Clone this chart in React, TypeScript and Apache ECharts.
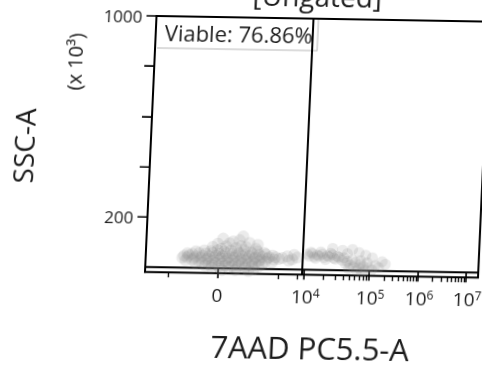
import React, { useEffect, useRef } from "react";
import * as echarts from "echarts";

// ---- data (x in display channels 0..1000, y = SSC-A in x10^3) ----
const xTickChannels = [219, 478, 673, 820, 964];
const xTickBases = ["0", "10", "10", "10", "10"];
const xTickExponents = ["", "4", "5", "6", "7"];
const xLinearMinorTicks = [69, 399, 456];
const yTickValues = [200, 400, 600, 800, 1000];
const yLabelValues = [200, 1000];
const gateChannel = 470;
const gateName = "Viable";
const gatePercent = "76.86";
const titleText = "[Ungated]";
const xAxisName = "7AAD PC5.5-A";
const yAxisName = "SSC-A";
const yAxisUnit = "(x 10³)";

const leftCloud: number[][] = [
  [200, 85], [240, 88], [270, 82], [300, 86], [330, 80], [225, 78], [285, 90],
  [150, 66], [175, 70], [195, 68], [215, 72], [235, 67], [255, 71], [275, 68], [295, 73], [315, 66], [335, 70], [355, 64],
  [125, 58], [140, 56], [160, 60], [180, 58], [200, 61], [220, 57], [240, 60], [260, 58], [280, 61], [300, 57], [320, 60], [340, 56], [360, 59], [380, 54],
  [115, 48], [130, 50], [150, 46], [170, 49], [190, 47], [210, 50], [230, 48], [250, 46], [270, 49], [290, 47], [310, 50], [330, 46], [350, 49], [370, 47], [390, 48],
  [110, 40], [125, 42], [145, 39], [165, 41], [185, 38], [205, 42], [225, 40], [245, 39], [265, 42], [285, 38], [305, 41], [325, 40], [345, 37], [365, 42], [385, 39], [400, 41],
  [120, 30], [140, 32], [160, 28], [180, 31], [200, 29], [220, 32], [240, 28], [260, 31], [280, 29], [300, 32], [320, 28], [340, 31], [360, 30], [380, 28],
  [150, 20], [170, 22], [190, 18], [210, 21], [230, 19], [250, 22], [270, 18], [290, 21], [310, 19], [330, 22], [350, 18],
  [180, 10], [200, 12], [220, 8], [240, 11], [260, 9], [280, 12], [300, 8], [320, 11], [340, 10],
  [200, 2], [225, 0], [250, 4], [275, 1], [300, 3], [325, -1],
  [230, -8], [270, -6], [310, -9],
  [230, 118], [260, 108], [290, 128], [250, 100], [310, 103], [280, 113], [335, 96], [215, 98],
  [410, 45], [425, 52], [440, 40], [455, 48], [430, 35], [445, 58],
];

const rightCloud: number[][] = [
  [485, 62], [500, 66], [515, 60], [530, 64], [545, 58], [560, 62], [575, 56],
  [490, 54], [505, 52], [520, 56], [535, 50], [550, 54], [565, 48], [580, 52],
  [495, 70], [525, 72], [555, 68], [510, 46], [540, 42], [570, 44], [595, 50],
  [590, 40], [605, 36], [620, 42], [600, 28], [615, 22], [630, 32], [645, 26],
  [625, 14], [640, 10], [655, 18], [670, 12], [610, 7], [635, 0], [660, 2],
  [650, -6], [680, 4], [690, 22], [700, 14], [665, 32], [645, 40],
  [560, 87], [590, 80], [620, 84], [640, 72], [605, 67], [660, 62], [680, 52], [710, 37], [720, 27],
];

const FONT = "Open Sans";
const INK = "#1c1c1c";

function decadeMinorTicks(): number[] {
  const out: number[] = [...xLinearMinorTicks];
  for (let i = 1; i < xTickChannels.length - 1; i++) {
    const a = xTickChannels[i];
    const b = xTickChannels[i + 1];
    for (let k = 2; k <= 9; k++) out.push(a + (b - a) * Math.log10(k));
  }
  return out;
}

export default function App() {
  const ref = useRef<HTMLDivElement>(null);
  useEffect(() => {
    const chart = echarts.init(ref.current!, null, { renderer: "svg" });
    const pointStyle = { color: "rgba(128,128,128,0.2)" };
    chart.setOption({
      animation: false,
      grid: {
        left: 145,
        right: 22,
        top: 36,
        bottom: 98,
        show: true,
        borderColor: "#000",
        borderWidth: 2,
      },
      xAxis: [
        {
          type: "value",
          min: 0,
          max: 1000,
          position: "bottom",
          splitLine: { show: false },
          axisLine: { show: true, lineStyle: { color: "#000", width: 2 } },
          axisTick: {
            show: true,
            length: 10,
            lineStyle: { color: "#000", width: 1.6 },
            customValues: xTickChannels,
          },
          axisLabel: {
            show: true,
            margin: 12,
            customValues: xTickChannels,
            formatter: (v: number) => {
              const i = xTickChannels.indexOf(v);
              if (i < 0) return "";
              return xTickExponents[i]
                ? `{bp|${xTickBases[i]}}{s|${xTickExponents[i]}}`
                : `{b|${xTickBases[i]}}`;
            },
            rich: {
              b: { fontSize: 19, fontFamily: FONT, color: INK },
              bp: { fontSize: 19, fontFamily: FONT, color: INK, padding: [0, 0, 0, 4] },
              s: { fontSize: 12, fontFamily: FONT, color: INK, verticalAlign: "top" },
            },
          },
        },
        {
          type: "value",
          min: 0,
          max: 1000,
          position: "bottom",
          splitLine: { show: false },
          axisLine: { show: false },
          axisLabel: { show: false },
          axisTick: {
            show: true,
            length: 5,
            lineStyle: { color: "#000", width: 1.3 },
            customValues: decadeMinorTicks(),
          },
        },
      ],
      yAxis: {
        type: "value",
        min: -20,
        max: 1000,
        splitLine: { show: false },
        axisLine: { show: true, lineStyle: { color: "#000", width: 2 } },
        axisTick: {
          show: true,
          length: 10,
          lineStyle: { color: "#000", width: 1.6 },
          customValues: yTickValues,
        },
        axisLabel: {
          show: true,
          margin: 14,
          customValues: yLabelValues,
          formatter: (v: number) => String(v),
          fontSize: 17,
          fontFamily: FONT,
          color: INK,
        },
      },
      series: [
        {
          type: "scatter",
          name: gateName,
          data: leftCloud,
          symbolSize: 12,
          itemStyle: pointStyle,
          markLine: {
            silent: true,
            symbol: ["none", "none"],
            label: { show: false },
            lineStyle: { color: "#000", width: 2, type: "solid" },
            data: [{ xAxis: gateChannel }],
          },
        },
        {
          type: "scatter",
          name: "Non-viable",
          data: rightCloud,
          symbolSize: 11,
          itemStyle: pointStyle,
        },
      ],
      graphic: [
        {
          type: "text",
          x: 305,
          y: 13,
          style: {
            text: titleText,
            fontSize: 28,
            fontFamily: FONT,
            fill: INK,
            textAlign: "center",
            textVerticalAlign: "middle",
          },
        },
        {
          type: "polyline",
          shape: { points: [[147, 68], [307, 68], [307, 37]] },
          style: { stroke: "#b8b8b8", lineWidth: 1, fill: "none" },
        },
        {
          type: "text",
          x: 154,
          y: 52,
          style: {
            text: `${gateName}: ${gatePercent}%`,
            fontSize: 22,
            fontFamily: FONT,
            fill: INK,
            textAlign: "left",
            textVerticalAlign: "middle",
          },
        },
        {
          type: "text",
          x: 18,
          y: 168,
          rotation: Math.PI / 2,
          style: {
            text: yAxisName,
            fontSize: 28,
            fontFamily: FONT,
            fill: INK,
            textAlign: "center",
            textVerticalAlign: "middle",
          },
        },
        {
          type: "text",
          x: 65,
          y: 83,
          rotation: Math.PI / 2,
          style: {
            text: yAxisUnit,
            fontSize: 20,
            fontFamily: FONT,
            fill: INK,
            textAlign: "center",
            textVerticalAlign: "middle",
          },
        },
        {
          type: "text",
          x: 313,
          y: 365,
          style: {
            text: xAxisName,
            fontSize: 31,
            fontFamily: FONT,
            fill: INK,
            textAlign: "center",
            textVerticalAlign: "middle",
          },
        },
      ],
    });
    return () => chart.dispose();
  }, []);
  return (
    <div
      ref={ref}
      style={{
        position: "fixed",
        left: 0,
        top: -20,
        width: 500,
        height: 390,
        transform: "matrix(1,0.017,-0.045,1,0,0)",
        transformOrigin: "144px 292px",
      }}
    />
  );
}
